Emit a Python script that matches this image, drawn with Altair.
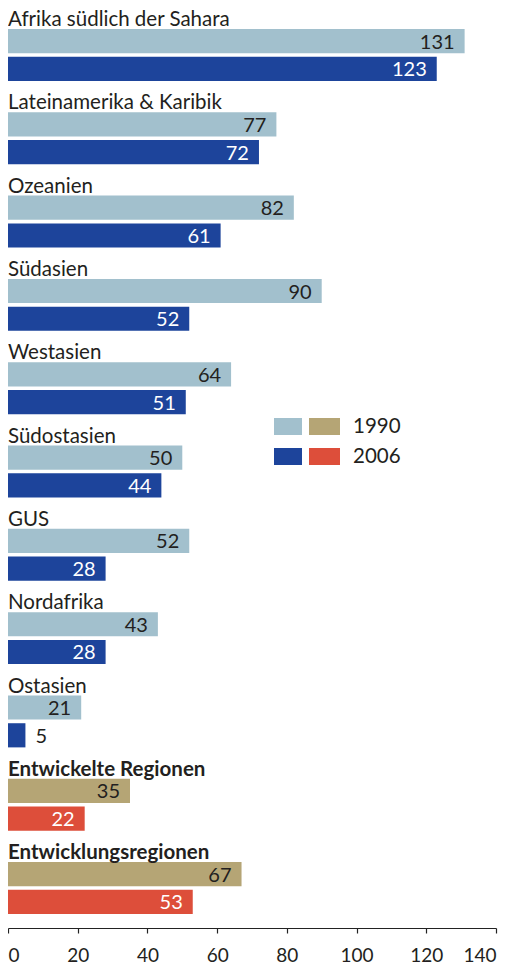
import altair as alt
import pandas as pd

regions = ["Afrika südlich der Sahara", "Lateinamerika & Karibik", "Ozeanien", "Südasien",
           "Westasien", "Südostasien", "GUS", "Nordafrika", "Ostasien",
           "Entwickelte Regionen", "Entwicklungsregionen"]
v1990 = [131, 77, 82, 90, 64, 50, 52, 43, 21, 35, 67]
v2006 = [123, 72, 61, 52, 51, 44, 28, 28, 5, 22, 53]
aggregate_groups = ["Entwickelte Regionen", "Entwicklungsregionen"]
years = ["1990", "2006"]
x_ticks = [0, 20, 40, 60, 80, 100, 120, 140]

FONT = "Lato"
FS = 20.5
FSN = 20
TXT = "#231f20"

rows = []
domain = []
for i, (r, a, b) in enumerate(zip(regions, v1990, v2006)):
    if i > 0:
        domain.append(f"s{i}")
    kind = "agg" if r in aggregate_groups else "reg"
    for yr, v in zip(years, (a, b)):
        key = f"{i}_{yr}"
        domain.append(key)
        rows.append({"row": key, "region": r, "year": yr, "value": v,
                     "ckey": f"{kind}{yr}", "kind": kind,
                     "first": yr == years[0], "inside": v >= 10})
df = pd.DataFrame(rows)

yscale = alt.Scale(domain=domain, paddingInner=0.13, paddingOuter=0)
xscale = alt.Scale(domain=[0, 140])

base = alt.Chart(df)

bars = base.mark_bar(cornerRadius=0).encode(
    x=alt.X("value:Q", scale=xscale,
            axis=alt.Axis(values=x_ticks, title=None, grid=False, offset=14,
                          domainColor="#222", tickColor="#222", tickSize=5,
                          labelFont=FONT, labelFontSize=19, labelColor=TXT,
                          labelPadding=13, domainWidth=1.2, tickWidth=1.2)),
    y=alt.Y("row:N", scale=yscale, axis=None),
    color=alt.Color("ckey:N", legend=None,
                    scale=alt.Scale(domain=["reg1990", "reg2006", "agg1990", "agg2006"],
                                    range=["#a2c0cd", "#1d449b", "#b5a575", "#dd4e3a"])),
)

lab_in_1990 = base.transform_filter("datum.first && datum.inside").mark_text(
    align="right", baseline="middle", dx=-10, dy=1.5, font=FONT, fontSize=FSN, color=TXT
).encode(x="value:Q", y=alt.Y("row:N", scale=yscale), text="value:Q")

lab_in_2006 = base.transform_filter("!datum.first && datum.inside").mark_text(
    align="right", baseline="middle", dx=-10, dy=1.5, font=FONT, fontSize=FSN, color="white"
).encode(x="value:Q", y=alt.Y("row:N", scale=yscale), text="value:Q")

lab_out = base.transform_filter("!datum.inside").mark_text(
    align="left", baseline="middle", dx=10, dy=2, font=FONT, fontSize=FSN, color=TXT
).encode(x="value:Q", y=alt.Y("row:N", scale=yscale), text="value:Q")

grp_reg = base.transform_filter("datum.first && datum.kind == 'reg'").mark_text(
    align="left", baseline="alphabetic", yOffset=-15, font=FONT, fontSize=FS, color=TXT
).encode(x=alt.value(0), y=alt.Y("row:N", scale=yscale), text="region:N")

grp_agg = base.transform_filter("datum.first && datum.kind == 'agg'").mark_text(
    align="left", baseline="alphabetic", yOffset=-15, font=FONT, fontSize=FS,
    fontWeight="bold", color=TXT
).encode(x=alt.value(0), y=alt.Y("row:N", scale=yscale), text="region:N")

leg_df = pd.DataFrame({"year": years, "c1": ["#a2c0cd", "#1d449b"], "c2": ["#b5a575", "#dd4e3a"],
                       "ly": [389, 419]})
leg = alt.Chart(leg_df)
sw1 = leg.mark_rect().encode(x=alt.value(266), x2=alt.value(294),
                             y=alt.Y("ly:Q", scale=None), y2=alt.Y2("y2:Q"),
                             color=alt.Color("c1:N", scale=None)).transform_calculate(
    y2="datum.ly + 17")
sw2 = leg.mark_rect().encode(x=alt.value(301), x2=alt.value(332),
                             y=alt.Y("ly:Q", scale=None), y2=alt.Y2("y2:Q"),
                             color=alt.Color("c2:N", scale=None)).transform_calculate(
    y2="datum.ly + 17")
legtxt = leg.mark_text(align="left", baseline="middle", font=FONT, fontSize=FS, color=TXT,
                       dy=9).encode(x=alt.value(345), y=alt.Y("ly:Q", scale=None), text="year:N")

chart = alt.layer(bars, lab_in_1990, lab_in_2006, lab_out, grp_reg, grp_agg,
                  sw1, sw2, legtxt).properties(
    width=488, height=885,
    padding={"left": 0, "top": 21, "right": 11, "bottom": 51},
    autosize=alt.AutoSizeParams(type="none"),
).resolve_scale(color="independent").configure_view(stroke=None)

chart.save("out.html", embed_options={"renderer": "svg", "actions": False})
